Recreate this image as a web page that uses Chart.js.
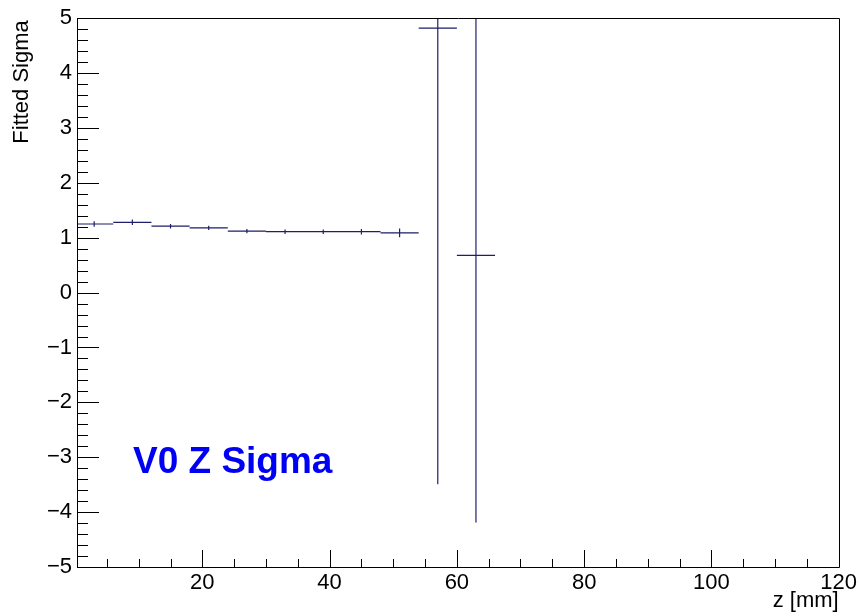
<!DOCTYPE html>
<html>
<head>
<meta charset="utf-8">
<script src="https://cdn.jsdelivr.net/npm/chart.js@4"></script>
<style>
  html, body { margin: 0; padding: 0; background: #fff; }
  #c { display: block; }
</style>
</head>
<body>
<canvas id="c" width="860" height="616"></canvas>
<script>
// histogram bins (z in mm) and fitted sigma per bin
var binEdges = [0, 6, 12, 18, 24, 30, 36, 42, 48, 54, 60, 66];
var binCenters = [3, 9, 15, 21, 27, 33, 39, 45, 51, 57, 63];
var sigmaValues = [1.25, 1.28, 1.21, 1.18, 1.12, 1.11, 1.11, 1.11, 1.09, 4.82, 0.68];
var sigmaErrors = [0.05, 0.05, 0.04, 0.04, 0.04, 0.04, 0.04, 0.05, 0.08, 8.31, 4.87];

var xTickValues = [20, 40, 60, 80, 100, 120];
var yTickValues = [-5, -4, -3, -2, -1, 0, 1, 2, 3, 4, 5];

var FONT = '"Liberation Sans", Arial, Helvetica, sans-serif';
var LINE_COLOR = '#1e1e6a';

// horizontal bin-width segments
var binLines = [];
for (var i = 0; i < sigmaValues.length; i++) {
    binLines.push({x: binEdges[i], y: sigmaValues[i]});
    binLines.push({x: binEdges[i + 1], y: sigmaValues[i]});
    binLines.push({x: binEdges[i + 1], y: null});
}
// vertical error bars
var errLines = [];
for (var j = 0; j < sigmaValues.length; j++) {
    errLines.push({x: binCenters[j], y: sigmaValues[j] - sigmaErrors[j]});
    errLines.push({x: binCenters[j], y: sigmaValues[j] + sigmaErrors[j]});
    errLines.push({x: binCenters[j], y: null});
}

function minusSign(v) {
    return String(v).replace('-', '\u2212');
}

// ROOT style frame: box, inside tick marks, axis titles, label
var rootFrame = {
    id: 'rootFrame',
    afterDraw: function(chart) {
        var ctx = chart.ctx;
        var area = chart.chartArea;
        var xs = chart.scales.x;
        var ys = chart.scales.y;
        ctx.save();
        ctx.strokeStyle = '#000';
        ctx.lineWidth = 1;
        ctx.beginPath();
        ctx.rect(Math.round(area.left) + 0.5, Math.round(area.top) + 0.5,
            Math.round(area.right - area.left), Math.round(area.bottom - area.top));
        ctx.stroke();

        // y ticks: major every 1, minor every 0.2
        ctx.beginPath();
        for (var k = 0; k <= 50; k++) {
            var v = ys.min + k * 0.2;
            var py = Math.round(ys.getPixelForValue(v)) + 0.5;
            var len = (k % 5 === 0) ? 22 : 11;
            ctx.moveTo(area.left, py);
            ctx.lineTo(area.left + len, py);
        }
        // x ticks: major every 20, minor every 5
        for (var t = 5; t < xs.max; t += 5) {
            var px = Math.round(xs.getPixelForValue(t)) + 0.5;
            var l = (t % 20 === 0) ? 17 : 8;
            ctx.moveTo(px, area.bottom);
            ctx.lineTo(px, area.bottom - l);
        }
        ctx.stroke();

        // axis titles
        ctx.fillStyle = '#000';
        ctx.font = '22px ' + FONT;
        ctx.textAlign = 'right';
        ctx.textBaseline = 'alphabetic';
        ctx.fillText('z [mm]', area.right, 607);

        ctx.save();
        ctx.translate(28, area.top + 2);
        ctx.rotate(-Math.PI / 2);
        ctx.textAlign = 'right';
        ctx.fillText('Fitted Sigma', 0, 0);
        ctx.restore();

        // plot label
        ctx.fillStyle = '#0000f5';
        ctx.font = 'bold 37px ' + FONT;
        ctx.textAlign = 'left';
        ctx.fillText('V0 Z Sigma', xs.getPixelForValue(9.1), ys.getPixelForValue(-3.28));
        ctx.restore();
    }
};

var ctx = document.getElementById('c').getContext('2d');
new Chart(ctx, {
    type: 'line',
    data: {
        datasets: [{
            data: binLines,
            borderColor: LINE_COLOR,
            borderWidth: 1.2,
            pointRadius: 0,
            spanGaps: false,
            tension: 0
        }, {
            data: errLines,
            borderColor: LINE_COLOR,
            borderWidth: 1.2,
            pointRadius: 0,
            spanGaps: false,
            tension: 0
        }]
    },
    options: {
        responsive: false,
        animation: false,
        devicePixelRatio: 1,
        layout: {
            padding: {top: 16, right: 21, left: 0, bottom: 0}
        },
        plugins: {
            legend: {display: false},
            tooltip: {enabled: false}
        },
        scales: {
            x: {
                type: 'linear',
                min: 0.3,
                max: 120,
                afterBuildTicks: function(scale) {
                    scale.ticks = xTickValues.map(function(v) { return {value: v}; });
                },
                afterFit: function(scale) { scale.height = 49; },
                grid: {display: false, drawTicks: false},
                border: {display: true, color: '#000'},
                ticks: {
                    autoSkip: false,
                    maxRotation: 0,
                    padding: 3,
                    color: '#000',
                    font: {family: FONT, size: 22},
                    callback: function(v) { return minusSign(v); }
                }
            },
            y: {
                type: 'linear',
                min: -5,
                max: 5,
                afterBuildTicks: function(scale) {
                    scale.ticks = yTickValues.map(function(v) { return {value: v}; });
                },
                afterFit: function(scale) { scale.width = 77; },
                grid: {display: false, drawTicks: false},
                border: {display: true, color: '#000'},
                ticks: {
                    autoSkip: false,
                    padding: 5,
                    color: '#000',
                    font: {family: FONT, size: 22},
                    callback: function(v) { return minusSign(v); }
                }
            }
        }
    },
    plugins: [rootFrame]
});
</script>
</body>
</html>
